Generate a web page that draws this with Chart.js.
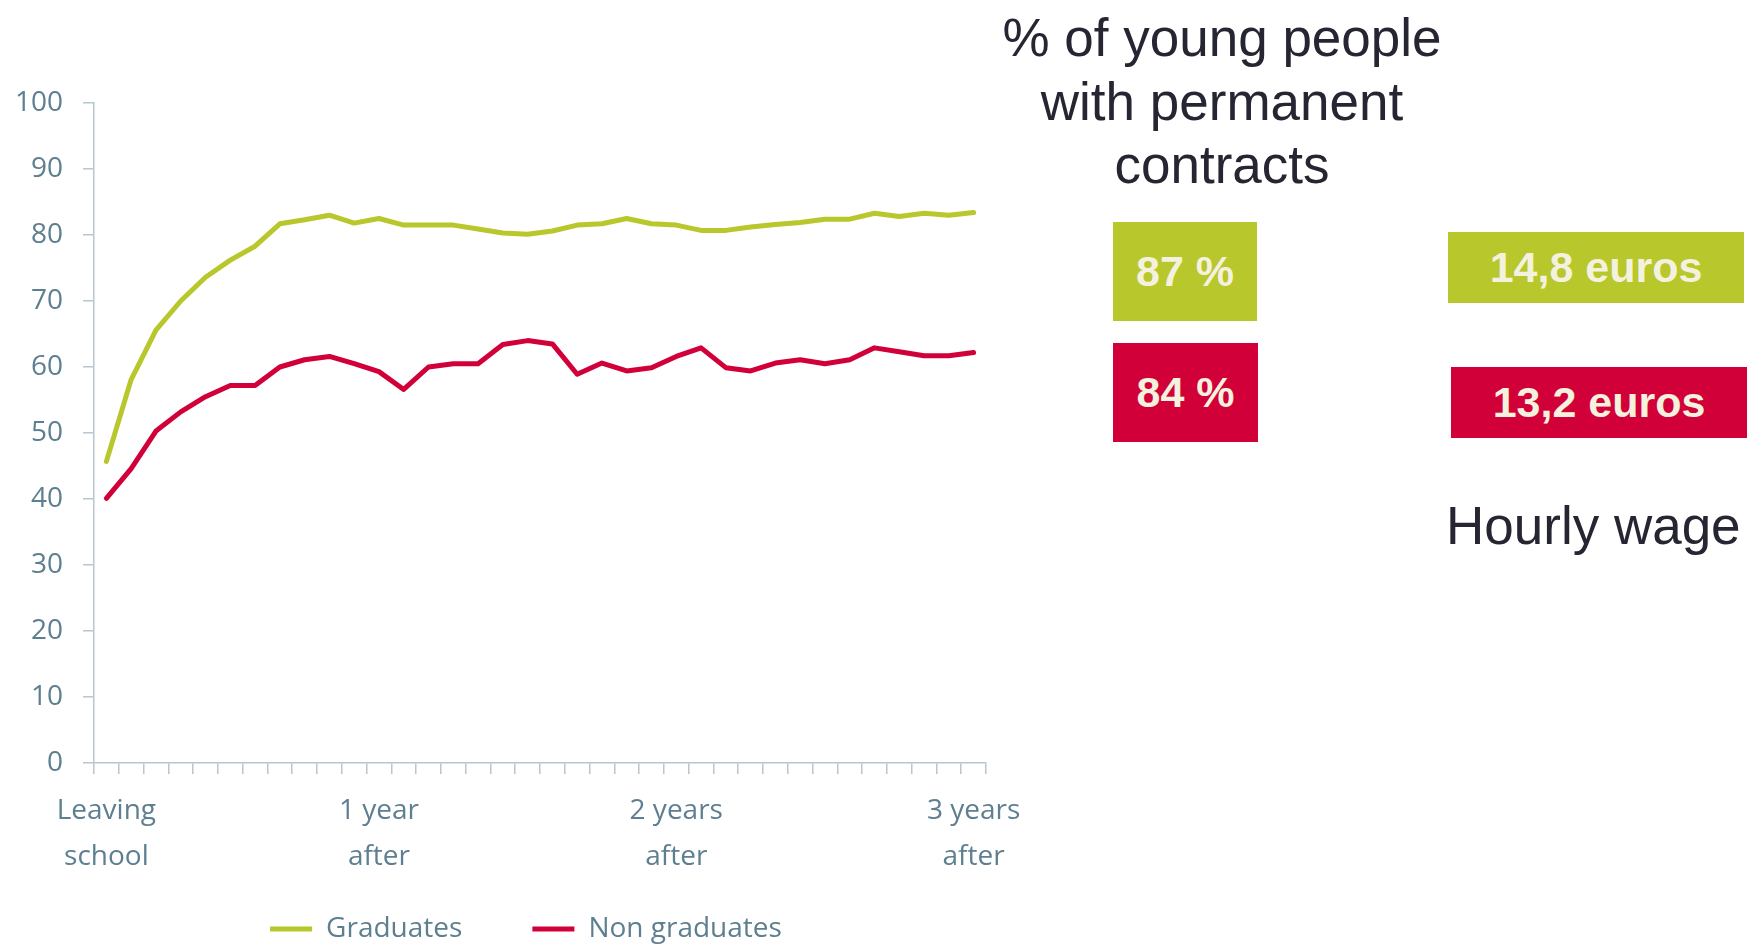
<!DOCTYPE html>
<html>
<head>
<meta charset="utf-8">
<script src="https://cdn.jsdelivr.net/npm/chart.js@4.4.0/dist/chart.umd.min.js"></script>
<style>
html, body { margin: 0; padding: 0; background: #fff; overflow: hidden; width: 1747px; height: 946px; }
#wrap { position: absolute; left: 0; top: 0; }
.title { position: absolute; left: 972px; width: 500px; top: 6px; text-align: center;
  font: 53px/63.5px "Liberation Sans", Arial, sans-serif; color: #262633; }
.box { position: absolute; display: flex; align-items: center; justify-content: center;
  font: bold 43px "Liberation Sans", Arial, sans-serif; color: #F4F1DE; }
.green { background: #B8C72B; }
.red { background: #D20038; }
.wage { position: absolute; left: 1446px; top: 494px; font: 53px/63.5px "Liberation Sans", Arial, sans-serif; color: #262633; white-space: nowrap; }
</style>
</head>
<body>
<div id="wrap"><canvas id="myChart" width="1040" height="991"></canvas></div>

<div class="title">% of young people<br>with permanent<br>contracts</div>
<div class="box green" style="left:1113px; top:222px; width:144px; height:99px;">87 %</div>
<div class="box red" style="left:1113px; top:343px; width:145px; height:99px;">84 %</div>
<div class="box green" style="left:1448px; top:232px; width:296px; height:71px;">14,8 euros</div>
<div class="box red" style="left:1451px; top:367px; width:296px; height:71px;">13,2 euros</div>
<div class="wage">Hourly wage</div>

<script>
// one point per month, labels only on 4 of them
const months = [
  ["Leaving", "school"], "", "", "", "", "", "", "", "", "", "",
  ["1 year", "after"], "", "", "", "", "", "", "", "", "", "", "",
  ["2 years", "after"], "", "", "", "", "", "", "", "", "", "", "",
  ["3 years", "after"]
];

const graduates = [45.7, 58.1, 65.6, 70.0, 73.6, 76.2, 78.3, 81.7, 82.3, 83.0, 81.8, 82.5,
  81.5, 81.5, 81.5, 80.9, 80.3, 80.1, 80.6, 81.5, 81.7, 82.5, 81.7, 81.5,
  80.7, 80.7, 81.2, 81.6, 81.9, 82.4, 82.4, 83.3, 82.8, 83.3, 83.0, 83.4];

const nonGraduates = [40.1, 44.6, 50.3, 53.2, 55.5, 57.2, 57.2, 60.0, 61.1, 61.6, 60.5, 59.3,
  56.6, 60.0, 60.5, 60.5, 63.4, 64.0, 63.5, 58.9, 60.6, 59.4, 59.9, 61.6,
  62.9, 59.9, 59.4, 60.6, 61.1, 60.5, 61.1, 62.9, 62.3, 61.7, 61.7, 62.2];

const axisText = "#5E7F90";
const axisLine = "#B8C6CF";
const tickFont = { family: "'Open Sans', sans-serif", size: 28, lineHeight: 1.643 };

// legend sits a bit higher and to the right than chart.js would put it
const moveLegend = {
  id: "moveLegend",
  afterLayout(chart) {
    const lg = chart.legend;
    lg.top -= 38;
    lg.bottom -= 38;
    lg.left += 33;
    lg.right += 33;
  }
};

const ctx = document.getElementById("myChart");

new Chart(ctx, {
  type: "line",
  data: {
    labels: months,
    datasets: [{
      label: "Graduates",
      data: graduates,
      borderColor: "#B8C72B",
      backgroundColor: "#B8C72B",
      borderWidth: 5,
      borderCapStyle: "round",
      borderJoinStyle: "round",
      pointRadius: 0,
      tension: 0
    }, {
      label: "Non graduates",
      data: nonGraduates,
      borderColor: "#D20038",
      backgroundColor: "#D20038",
      borderWidth: 5,
      borderCapStyle: "round",
      borderJoinStyle: "round",
      pointRadius: 0,
      tension: 0
    }]
  },
  options: {
    responsive: false,
    animation: false,
    layout: { padding: { top: 103, left: 0, right: 54, bottom: 0 } },
    plugins: {
      tooltip: { enabled: false },
      legend: {
        position: "bottom",
        labels: {
          usePointStyle: true,
          pointStyle: "line",
          pointStyleWidth: 42,
          padding: 70,
          color: axisText,
          font: { family: "'Open Sans', sans-serif", size: 28 }
        }
      }
    },
    scales: {
      x: {
        offset: true,
        grid: { offset: true, drawOnChartArea: false, tickLength: 11, color: axisLine, lineWidth: 1.5 },
        border: { color: axisLine, width: 1.5 },
        ticks: { autoSkip: false, maxRotation: 0, padding: 14, color: axisText, font: tickFont },
        afterFit: (scale) => { scale.height = 120; }
      },
      y: {
        min: 0,
        max: 100,
        grid: { drawOnChartArea: false, tickLength: 11, color: axisLine, lineWidth: 1.5 },
        border: { color: axisLine, width: 1.5 },
        ticks: { stepSize: 10, padding: 20, color: axisText, font: { family: "'Open Sans', sans-serif", size: 28 } },
        afterFit: (scale) => { scale.width = 94; }
      }
    }
  },
  plugins: [moveLegend]
});
</script>
</body>
</html>
